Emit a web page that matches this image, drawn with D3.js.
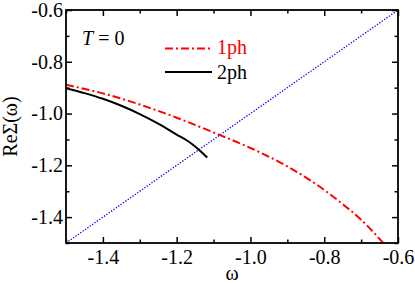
<!DOCTYPE html>
<html><head><meta charset="utf-8">
<script src="https://cdn.jsdelivr.net/npm/d3@7"></script>
<style>
html,body{margin:0;padding:0;background:#fff;}
svg{display:block;}
svg text{font-family:"Liberation Serif","Times New Roman",serif !important;}
</style></head>
<body>
<svg id="c" width="415" height="284"></svg>
<script>
const xTicks = [-1.4, -1.2, -1.0, -0.8, -0.6];
const xMinor = [-1.5, -1.3, -1.1, -0.9, -0.7];
const yTicks = [-1.4, -1.2, -1.0, -0.8, -0.6];
const yMinor = [-1.5, -1.3, -1.1, -0.9, -0.7];

const omega1ph = [-1.5, -1.4, -1.3, -1.2, -1.1, -1.0, -0.9, -0.8, -0.75, -0.7, -0.64];
const re1ph    = [-0.889, -0.922, -0.965, -1.016, -1.073, -1.133, -1.204, -1.295, -1.35, -1.41, -1.5];

const omega2ph = [-1.5, -1.45, -1.4, -1.35, -1.3, -1.25, -1.2, -1.17, -1.15, -1.13, -1.117];
const re2ph    = [-0.902, -0.921, -0.943, -0.970, -1.002, -1.039, -1.081, -1.106, -1.127, -1.152, -1.170];

const diagX = [-1.5, -0.6];
const diagY = [-1.5, -0.6];

(function () {
const W = 415, H = 284;
const m = {l: 66, r: 17, t: 10, b: 41};
const svg = d3.select("#c");
const x = d3.scaleLinear().domain([-1.5, -0.6]).range([m.l, W - m.r]);
const y = d3.scaleLinear().domain([-1.5, -0.6]).range([H - m.b, m.t]);

svg.append("clipPath").attr("id", "pc").append("rect")
  .attr("x", m.l).attr("y", m.t).attr("width", x.range()[1] - m.l).attr("height", y.range()[0] - m.t);

const plot = svg.append("g").attr("clip-path", "url(#pc)");
const line = d3.line().x(d => x(d[0])).y(d => y(d[1])).curve(d3.curveMonotoneX);

plot.append("path").datum(d3.zip(diagX, diagY)).attr("d", line)
  .attr("fill", "none").attr("stroke", "#0000ff").attr("stroke-width", 1.3)
  .attr("stroke-dasharray", "1.3,1.6");
plot.append("path").datum(d3.zip(omega1ph, re1ph)).attr("d", line)
  .attr("fill", "none").attr("stroke", "#ff0000").attr("stroke-width", 2)
  .attr("stroke-dasharray", "8,3,2,3");
plot.append("path").datum(d3.zip(omega2ph, re2ph)).attr("d", line)
  .attr("fill", "none").attr("stroke", "#000").attr("stroke-width", 2);

const major = 6, minor = 3.5;
const fmt = d => d3.format(".1f")(d).replace("\u2212", "-");
function ax(gen, tr, vals, size, labels) {
  const g = svg.append("g").attr("transform", tr)
    .call(gen.tickValues(vals).tickSize(size).tickSizeOuter(0).tickPadding(3)
      .tickFormat(labels ? fmt : () => ""));
  g.attr("font-family", null).attr("font-size", 20);
  g.select(".domain").remove();
  g.selectAll(".tick line").attr("stroke", "#000").attr("stroke-width", 1.5);
  g.selectAll(".tick text").attr("font-size", 20).attr("fill", "#000");
  return g;
}
const yB = y.range()[0], yT = m.t, xL = m.l, xR = x.range()[1];
ax(d3.axisBottom(x), `translate(0,${yB})`, xTicks, -major, true)
  .selectAll(".tick text").attr("dy", "0").attr("y", 21);
ax(d3.axisBottom(x), `translate(0,${yB})`, xMinor, -minor, false);
ax(d3.axisTop(x), `translate(0,${yT})`, xTicks, -major, false);
ax(d3.axisTop(x), `translate(0,${yT})`, xMinor, -minor, false);
ax(d3.axisLeft(y), `translate(${xL},0)`, yTicks, -major, true)
  .selectAll(".tick text").attr("x", -3);
ax(d3.axisLeft(y), `translate(${xL},0)`, yMinor, -minor, false);
ax(d3.axisRight(y), `translate(${xR},0)`, yTicks, -major, false);
ax(d3.axisRight(y), `translate(${xR},0)`, yMinor, -minor, false);

svg.append("rect").attr("x", xL).attr("y", yT).attr("width", xR - xL).attr("height", yB - yT)
  .attr("fill", "none").attr("stroke", "#000").attr("stroke-width", 1.8);

svg.append("text").attr("x", (xL + xR) / 2).attr("y", 280).attr("text-anchor", "middle")
  .attr("font-size", 20).text("ω");
svg.append("text").attr("transform", `translate(17,${(yT + yB) / 2}) rotate(-90)`)
  .attr("text-anchor", "middle").attr("font-size", 20).text("ReΣ(ω)");

const tt = svg.append("text").attr("x", 82).attr("y", 45).attr("font-size", 20);
tt.append("tspan").attr("font-style", "italic").text("T");
tt.append("tspan").text(" = 0");

svg.append("line").attr("x1", 165).attr("x2", 212).attr("y1", 48.5).attr("y2", 48.5)
  .attr("stroke", "#ff0000").attr("stroke-width", 2).attr("stroke-dasharray", "8,3,2,3");
svg.append("text").attr("x", 217).attr("y", 54).attr("font-size", 20).attr("fill", "#ff0000").text("1ph");
svg.append("line").attr("x1", 165).attr("x2", 212).attr("y1", 72).attr("y2", 72)
  .attr("stroke", "#000").attr("stroke-width", 2);
svg.append("text").attr("x", 217).attr("y", 79).attr("font-size", 20).attr("fill", "#000").text("2ph");
})();
</script>
</body></html>
